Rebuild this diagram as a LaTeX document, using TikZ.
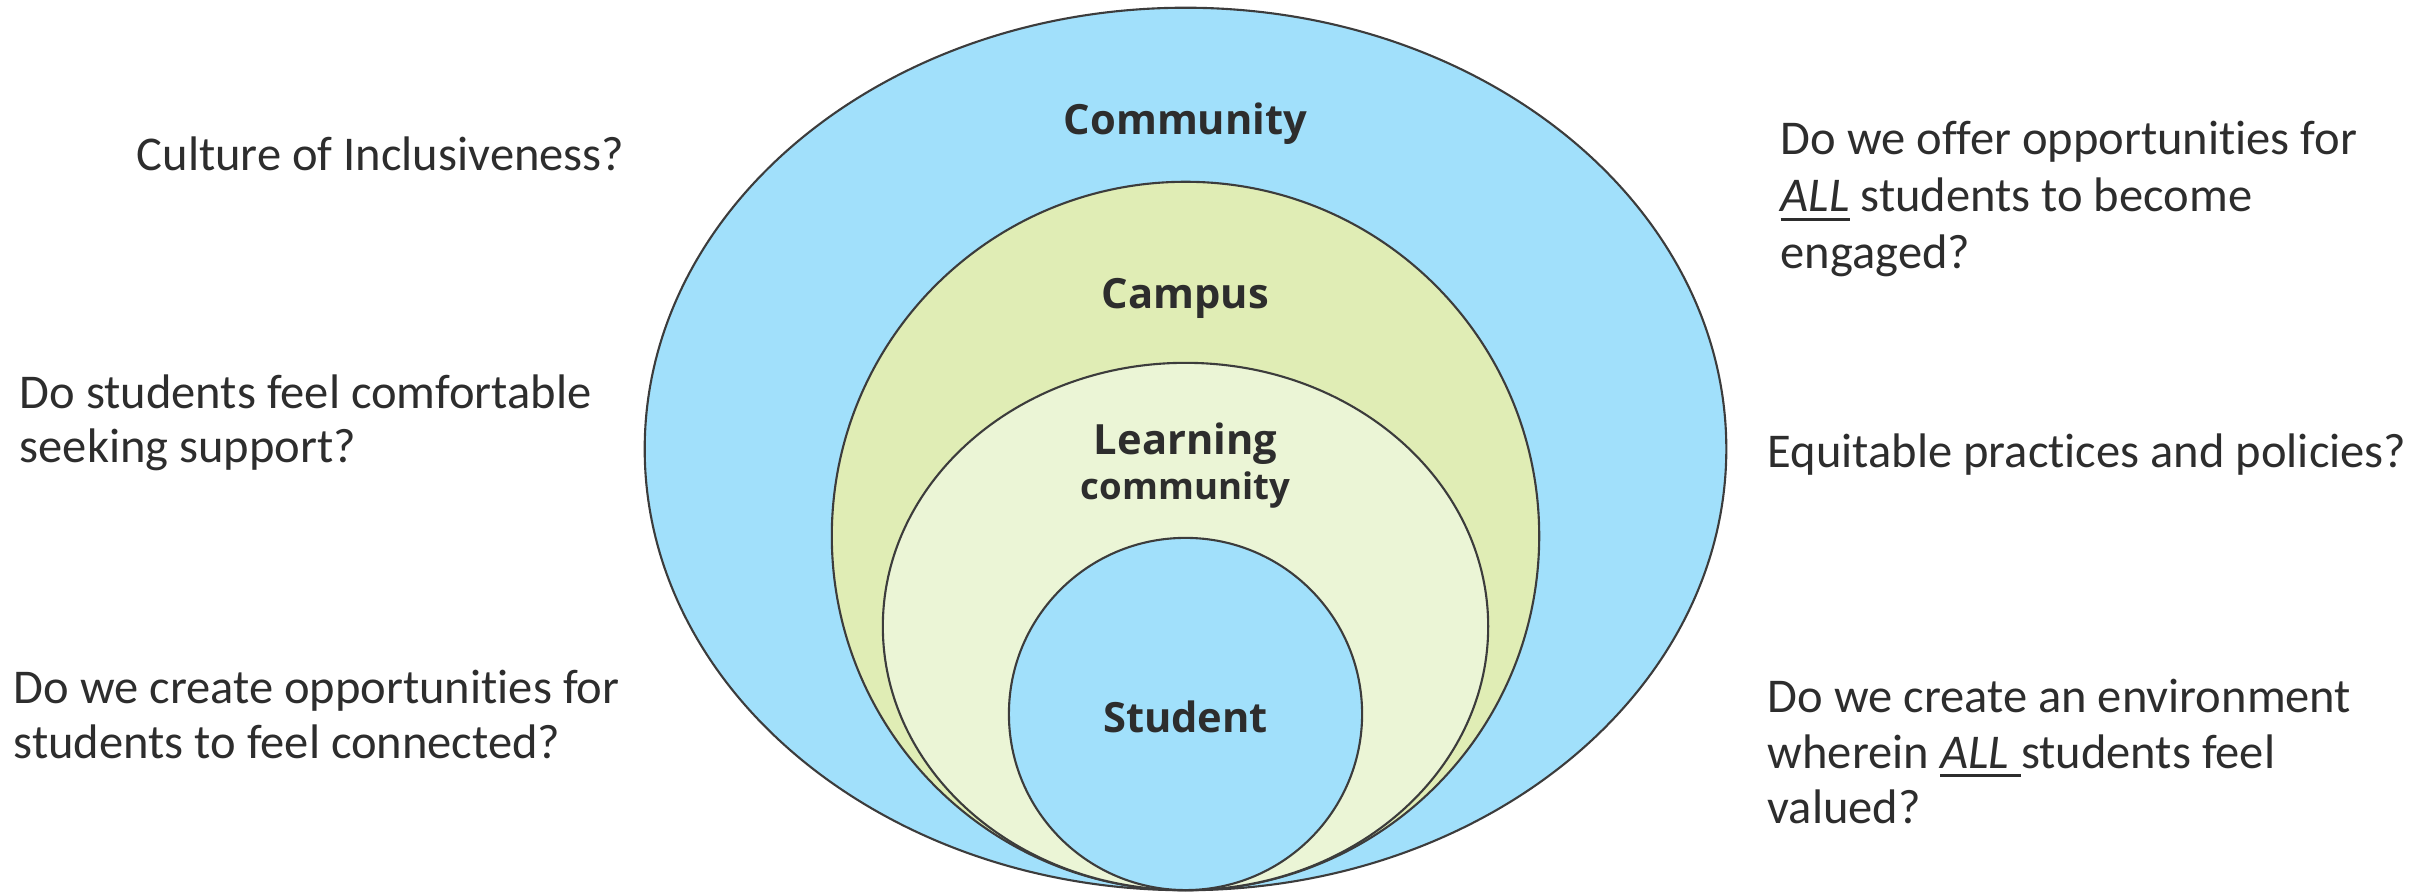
\documentclass[tikz,border=0pt]{standalone}
\usepackage{fontspec}
\setmainfont{Carlito}[Ligatures=NoCommon]
\newfontfamily\labelfont{Open Sans}
\usetikzlibrary{shapes.geometric}
\definecolor{skyfill}{RGB}{161,224,251}
\definecolor{campusfill}{RGB}{224,237,181}
\definecolor{learnfill}{RGB}{235,245,214}
\definecolor{rimgray}{RGB}{60,60,60}
\definecolor{inkgray}{RGB}{45,45,45}
% italic word with a slightly heavier, lower rule beneath it
\newsavebox{\ulbox}
\newcommand{\ulword}[2][0pt]{\sbox{\ulbox}{\textit{#2}\hspace{#1}}%
  \leavevmode\rlap{\rule[-2.6pt]{\wd\ulbox}{0.8pt}}\usebox{\ulbox}}
\begin{document}
\begin{tikzpicture}[x=0.01cm,y=0.01cm,
  ring/.style={ellipse, draw=rimgray, line width=0.6pt, inner sep=0pt, outer sep=0pt},
  ringlabel/.style={anchor=base, inner sep=0pt, text=inkgray,
    font=\labelfont\bfseries\fontsize{11.85}{14}\selectfont},
  smalllabel/.style={ringlabel, font=\labelfont\bfseries\fontsize{10.4}{12}\selectfont},
  question/.style={anchor=base west, inner sep=0pt, text=inkgray}]
\useasboundingbox (0,0) rectangle (2425,892);

% nested rings, all touching at the bottom
\node[ring, fill=skyfill, minimum width=10.81cm, minimum height=8.82cm] (community) at (1185.5,443) {};
\node[ring, fill=campusfill, minimum width=7.07cm, minimum height=7.08cm] (campus) at (1185.5,356) {};
\node[ring, fill=learnfill, minimum width=6.05cm, minimum height=5.27cm] (learning) at (1185.5,265.5) {};
\node[ring, fill=skyfill, minimum width=3.53cm, minimum height=3.52cm] (student) at (1185.5,178) {};

% ring labels
\node[ringlabel] (communitylabel) at (1185.5,757) {Community};
\node[ringlabel] (campuslabel) at (1185.5,583) {Campus};
\node[ringlabel] (learninglabel) at (1185.5,437) {Learning};
\node[smalllabel] (learninglabelb) at (1185.5,392) {community};
\node[ringlabel] (studentlabel) at (1185.5,159) {Student};

% questions on the left
\node[question, font=\fontsize{13.8}{15.4}\selectfont] (culture) at (136,721)
  {Culture of Inclusiveness?};
\node[question, font=\fontsize{13.8}{15.2}\selectfont] (support) at (19,483)
  {\begin{tabular}[t]{@{}l@{}}Do students feel comfortable\\ seeking support?\end{tabular}};
\node[question, font=\fontsize{13.8}{15.5}\selectfont] (connected) at (13,188)
  {\begin{tabular}[t]{@{}l@{}}Do we create opportunities for\\ students to feel connected?\end{tabular}};

% questions on the right
\node[question, font=\fontsize{13.8}{16.2}\selectfont] (engaged) at (1780,737)
  {\begin{tabular}[t]{@{}l@{}}Do we offer opportunities for\\ \ulword{ALL} students to become\\ engaged?\end{tabular}};
\node[question, font=\fontsize{13.8}{15.4}\selectfont] (equitable) at (1767,424)
  {Equitable practices and policies?};
\node[question, font=\fontsize{13.8}{15.65}\selectfont] (valued) at (1767,179)
  {\begin{tabular}[t]{@{}l@{}}Do we create an environment\\ wherein \ulword[0.25em]{ALL}students feel\\ valued?\end{tabular}};
\end{tikzpicture}
\end{document}
